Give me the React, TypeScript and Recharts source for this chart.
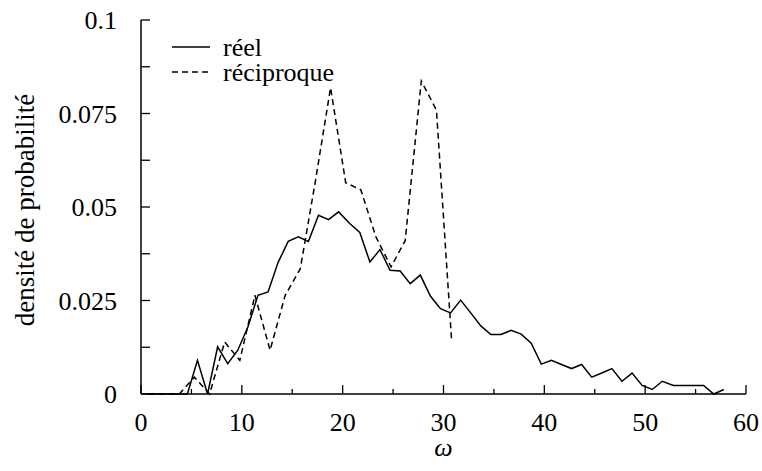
import { LineChart, Line, XAxis, YAxis, Legend } from 'recharts';

// densité "réel" (solid line)
const reelOmega = [
    0.6, 1.6, 2.6, 3.6, 4.6, 5.6, 6.6, 7.6, 8.6, 9.6, 10.6, 11.6, 12.6, 13.6, 14.6, 15.6, 16.6, 17.6, 18.6, 19.6,
    20.7, 21.7, 22.7, 23.7, 24.7, 25.7, 26.7, 27.7, 28.7, 29.7, 30.7, 31.7, 32.7, 33.7, 34.7, 35.7, 36.7, 37.7,
    38.7, 39.7, 40.7, 41.7, 42.7, 43.7, 44.7, 45.7, 46.7, 47.7, 48.7, 49.7, 50.7, 51.7,
    52.8, 53.8, 54.8, 55.8, 56.8, 57.8,
];
const reelDensity = [
    0, 0, 0, 0, 0, 0.009, 0, 0.0126, 0.0081, 0.0117, 0.0179, 0.0264, 0.0273, 0.0352, 0.0408, 0.042, 0.0408, 0.0478, 0.0466, 0.0487,
    0.0456, 0.0432, 0.0353, 0.0386, 0.0331, 0.0329, 0.0295, 0.0318, 0.0262, 0.0228, 0.0217, 0.0251, 0.0217, 0.0182, 0.0159, 0.0159, 0.017, 0.016,
    0.0136, 0.008, 0.009, 0.0079, 0.0068, 0.0079, 0.0045, 0.0056, 0.0068, 0.0034, 0.0056, 0.0023, 0.0012, 0.0034,
    0.0023, 0.0023, 0.0023, 0.0023, 0, 0.0012,
];

// densité "réciproque" (dashed line)
const reciOmega = [0.8, 2.3, 3.8, 5.3, 6.8, 8.3, 9.8, 11.3, 12.8, 14.3, 15.8, 17.3, 18.8, 20.3, 21.8, 23.3, 24.8, 26.2, 27.8, 29.3, 30.8];
const reciDensity = [0, 0, 0, 0.0045, 0, 0.0139, 0.009, 0.0264, 0.0117, 0.0264, 0.0335, 0.057, 0.0819, 0.0565, 0.0546, 0.042, 0.034, 0.041, 0.0837, 0.0759, 0.0145];

// axis ticks
const xMajorTicks = [0, 10, 20, 30, 40, 50, 60];
const xMinorTicks = [5, 15, 25, 35, 45, 55];
const yTicks = [0, 0.0125, 0.025, 0.0375, 0.05, 0.0625, 0.075, 0.0875, 0.1];
const yLabelTicks = [0, 0.025, 0.05, 0.075, 0.1];
const yTickLabels = ['0', '0.025', '0.05', '0.075', '0.1'];

const reelData = reelOmega.map((w, i) => ({ w, p: reelDensity[i] }));
const reciData = reciOmega.map((w, i) => ({ w, p: reciDensity[i] }));
const xTicks = [...xMajorTicks, ...xMinorTicks].sort((a, b) => a - b);

const INK = '#000';
const txt = { fontFamily: '"Liberation Serif", serif', fontSize: 26 };

const BottomTick = ({ x, y, payload }: any) => {
    const major = xMajorTicks.includes(payload.value);
    return (
        <g>
            <line x1={x} x2={x} y1={y} y2={y - (major ? 9 : 5)} stroke={INK} strokeWidth={1.3} />
            {major && (
                <text x={x} y={y + 37} textAnchor="middle" style={txt} fill={INK}>
                    {payload.value}
                </text>
            )}
        </g>
    );
};

const TopTick = ({ x, y, payload }: any) => {
    const major = xMajorTicks.includes(payload.value);
    return <line x1={x} x2={x} y1={y} y2={y + (major ? 9 : 5)} stroke={INK} strokeWidth={1.3} />;
};

const LeftTick = ({ x, y, payload }: any) => {
    const idx = yLabelTicks.findIndex(v => Math.abs(v - payload.value) < 1e-9);
    return (
        <g>
            <line x1={x} x2={x + 9} y1={y} y2={y} stroke={INK} strokeWidth={1.3} />
            {idx >= 0 && (
                <text x={x - 24} y={y + 9} textAnchor="end" style={txt} fill={INK}>
                    {yTickLabels[idx]}
                </text>
            )}
        </g>
    );
};

const RightTick = ({ x, y }: any) => (
    <line x1={x} x2={x - 9} y1={y} y2={y} stroke={INK} strokeWidth={1.3} />
);

const LegendBox = () => (
    <svg width={260} height={62} style={{ display: 'block', overflow: 'visible' }}>
        <line x1={2} x2={40} y1={12} y2={12} stroke={INK} strokeWidth={1.5} />
        <text x={53} y={21} style={txt} fill={INK}>réel</text>
        <line x1={2} x2={40} y1={37} y2={37} stroke={INK} strokeWidth={1.5} strokeDasharray="6 4" />
        <text x={53} y={46} style={txt} fill={INK}>réciproque</text>
    </svg>
);

export default function App() {
    return (
        <div style={{ width: 762, height: 471 }}>
            <style>{'body { margin: 0; }'}</style>
            <LineChart width={762} height={471} margin={{ top: 20, right: 16, left: 0, bottom: 0 }}>
                <XAxis
                    dataKey="w"
                    type="number"
                    domain={[0, 60]}
                    ticks={xTicks}
                    interval={0}
                    height={77}
                    tickSize={0}
                    tickMargin={0}
                    tickLine={false}
                    axisLine={{ stroke: INK, strokeWidth: 1.5 }}
                    tick={<BottomTick />}
                    label={{
                        content: ({ viewBox }: any) => (
                            <text
                                x={viewBox.x + viewBox.width / 2}
                                y={viewBox.y + 62}
                                textAnchor="middle"
                                style={{ ...txt, fontStyle: 'italic' }}
                                fill={INK}
                            >
                                ω
                            </text>
                        ),
                    }}
                />
                <XAxis
                    xAxisId="top"
                    orientation="top"
                    dataKey="w"
                    type="number"
                    domain={[0, 60]}
                    ticks={xTicks}
                    interval={0}
                    height={0}
                    tickSize={0}
                    tickMargin={0}
                    tickLine={false}
                    axisLine={{ stroke: INK, strokeWidth: 1.5 }}
                    tick={<TopTick />}
                />
                <YAxis
                    type="number"
                    domain={[0, 0.1]}
                    ticks={yTicks}
                    interval={0}
                    width={141}
                    tickSize={0}
                    tickMargin={0}
                    tickLine={false}
                    axisLine={{ stroke: INK, strokeWidth: 1.5 }}
                    tick={<LeftTick />}
                    label={{
                        content: ({ viewBox }: any) => (
                            <text
                                transform={`translate(${viewBox.x + 34}, ${viewBox.y + viewBox.height / 2 + 3}) rotate(-90)`}
                                textAnchor="middle"
                                style={{ ...txt, fontSize: 27 }}
                                fill={INK}
                            >
                                densité de probabilité
                            </text>
                        ),
                    }}
                />
                <YAxis
                    yAxisId="right"
                    orientation="right"
                    type="number"
                    domain={[0, 0.1]}
                    ticks={yTicks}
                    interval={0}
                    width={0}
                    tickSize={0}
                    tickMargin={0}
                    tickLine={false}
                    axisLine={{ stroke: INK, strokeWidth: 1.5 }}
                    tick={<RightTick />}
                />
                <Legend
                    layout="horizontal"
                    verticalAlign="middle"
                    align="center"
                    content={<LegendBox />}
                    wrapperStyle={{ top: 35, left: 170, width: 260, height: 62 }}
                />
                <Line
                    data={reelData}
                    dataKey="p"
                    name="réel"
                    type="linear"
                    stroke={INK}
                    strokeWidth={1.5}
                    dot={false}
                    isAnimationActive={false}
                />
                <Line
                    data={reciData}
                    dataKey="p"
                    name="réciproque"
                    type="linear"
                    stroke={INK}
                    strokeWidth={1.5}
                    strokeDasharray="6 4"
                    dot={false}
                    isAnimationActive={false}
                />
            </LineChart>
        </div>
    );
}
